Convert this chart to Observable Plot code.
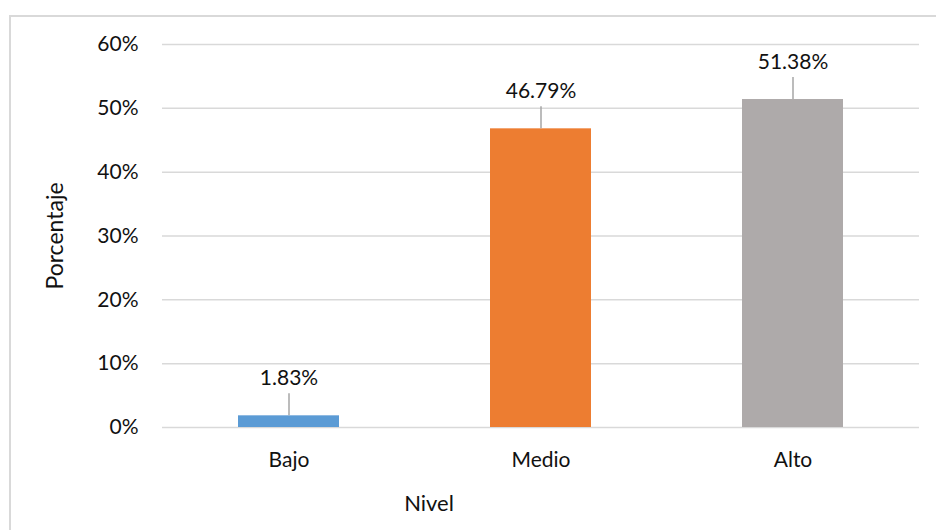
<!DOCTYPE html>
<html>
<head>
<meta charset="utf-8">
<script src="https://cdn.jsdelivr.net/npm/d3@7"></script>
<script src="https://cdn.jsdelivr.net/npm/@observablehq/plot@0.6"></script>
<style>
  html, body { margin: 0; padding: 0; background: #fff; overflow: hidden; }
  #wrap { position: relative; width: 936px; height: 530px; }
  #border {
    position: absolute; left: 9px; top: 15px; width: 960px; height: 560px;
    border: 2px solid #d9d9d9; box-sizing: border-box; pointer-events: none;
  }
  #chart svg { display: block; }
</style>
</head>
<body>
<div id="wrap">
  <div id="chart"></div>
  <div id="border"></div>
</div>
<script>
// Distribución por nivel (porcentaje)
const niveles = ["Bajo", "Medio", "Alto"];
const porcentajes = [1.83, 46.79, 51.38];
const colores = ["#5b9bd5", "#ed7d31", "#aeaaaa"];
const ticksY = [0, 10, 20, 30, 40, 50, 60];

const data = niveles.map((nivel, i) => ({nivel, pct: porcentajes[i], color: colores[i]}));

const font = "Lato, 'Noto Sans', sans-serif";
const ink = "#111";

const chart = Plot.plot({
  width: 936,
  height: 530,
  marginLeft: 162,
  marginRight: 17,
  marginTop: 44,
  marginBottom: 103,
  style: {fontFamily: font, fontSize: "21px", color: ink, background: "#fff"},
  x: {domain: niveles, paddingInner: 0.6, paddingOuter: 0.3},
  y: {domain: [0, 60]},
  marks: [
    Plot.gridY(ticksY, {stroke: "#d9d9d9", strokeOpacity: 1, strokeWidth: 1.5}),
    Plot.axisY(ticksY, {
      tickSize: 0, tickPadding: 24, label: null,
      tickFormat: d => d + "%", fontSize: 21, fill: ink
    }),
    Plot.axisX({
      tickSize: 0, tickPadding: 25, label: null, fontSize: 21, fill: ink
    }),
    Plot.barY(data, {x: "nivel", y: "pct", fill: "color"}),
    // leader lines from the bar top up to its label
    Plot.ruleX(data, {
      x: "nivel", y1: "pct", y2: "pct",
      insetTop: 0, insetBottom: 22,
      stroke: "#a6a6a6", strokeWidth: 1.5
    }),
    Plot.text(data, {
      x: "nivel", y: "pct",
      text: d => d.pct.toFixed(2) + "%",
      lineAnchor: "bottom", dy: -31,
      fontSize: 21, fill: ink
    }),
    Plot.text(["Porcentaje"], {
      frameAnchor: "left", textAnchor: "middle", lineAnchor: "middle",
      rotate: -90, dx: -107,
      fontSize: 23, fill: ink
    }),
    Plot.text(["Nivel"], {
      frameAnchor: "bottom", textAnchor: "middle", lineAnchor: "bottom",
      dx: -112, dy: 83,
      fontSize: 22, fill: ink
    })
  ]
});

document.getElementById("chart").appendChild(chart);
</script>
</body>
</html>
